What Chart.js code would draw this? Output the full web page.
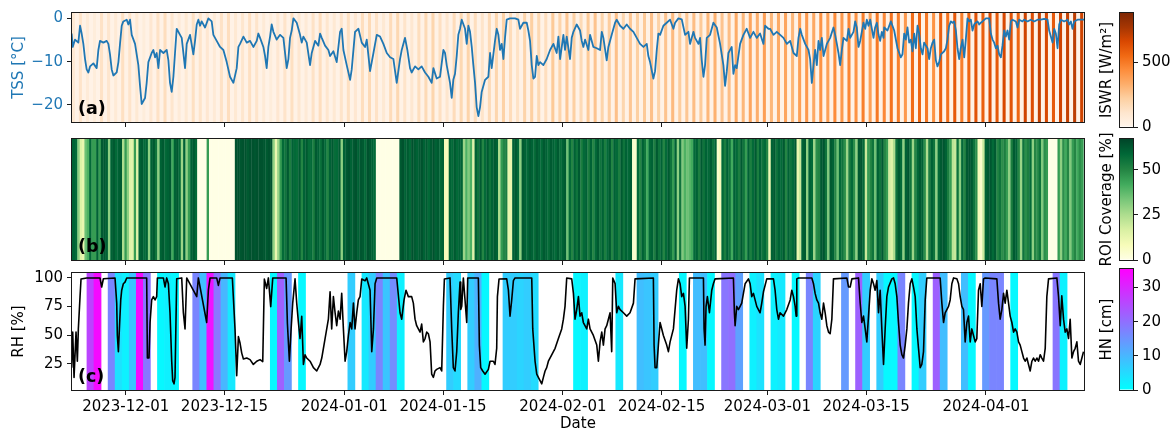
<!DOCTYPE html>
<html><head><meta charset="utf-8">
<script src="https://cdn.jsdelivr.net/npm/chart.js@4.4.1/dist/chart.umd.min.js"></script>
<style>
html,body{margin:0;padding:0;background:#fff;}
#wrap{position:relative;width:1175px;height:434px;overflow:hidden;background:#fff;}
canvas{position:absolute;}
</style></head><body>
<div id="wrap">
<canvas id="cA" width="1100" height="135" style="left:0;top:0"></canvas>
<canvas id="cB" width="1100" height="135" style="left:0;top:130px"></canvas>
<canvas id="cC" width="1100" height="174" style="left:0;top:260px"></canvas>
<canvas id="kA" width="85" height="140" style="left:1090px;top:0"></canvas>
<canvas id="kB" width="85" height="150" style="left:1090px;top:125px"></canvas>
<canvas id="kC" width="85" height="150" style="left:1090px;top:255px"></canvas>
</div>
<script>
// ---------------- DATA ----------------
const startDate = '2023-11-23';           // day 0 of all time values below (days since this date)
const tickDates = ['2023-12-01','2023-12-15','2024-01-01','2024-01-15','2024-02-01','2024-02-15','2024-03-01','2024-03-15','2024-04-01'];
const tssTicks = [0, -10, -20];
const rhTicks = [25, 50, 75, 100];
const iswrTicks = [0, 500];
const roiTicks = [0, 25, 50];
const hnTicks = [0, 10, 20, 30];

// snow surface temperature [°C] : [day, value]
const tssSeries = [
[0.33,-3.5],[0.48,-6.6],[0.81,-4.9],[1.28,-5.6],[1.52,-1.7],[1.75,-3.5],[1.99,-5.9],[2.23,-9.4],[2.46,-11.8],[2.70,-12.5],[2.94,-11.1],[3.41,-10.4],[3.88,-11.5],[4.12,-7.3],[4.35,-5.2],[4.83,-5.6],[5.30,-5.2],[5.54,-5.9],[5.77,-8.3],[6.01,-11.8],[6.25,-13.2],[6.72,-12.5],[6.96,-10.1],[7.19,-5.9],[7.43,-1.7],[7.66,-0.7],[8.14,-0.3],[8.37,-1.4],[8.61,-0.3],[8.85,-3.8],[9.32,-5.9],[9.79,-10.8],[10.03,-15.6],[10.26,-19.8],[10.50,-19.1],[10.74,-18.4],[10.97,-14.9],[11.21,-10.1],[11.68,-8.0],[11.92,-7.3],[12.16,-9.0],[12.39,-8.0],[12.63,-11.5],[12.87,-7.3],[13.34,-8.0],[13.81,-7.3],[14.05,-9.7],[14.28,-14.9],[14.52,-17.0],[14.76,-13.5],[14.99,-8.0],[15.23,-2.4],[15.70,-3.8],[15.94,-4.5],[16.41,-11.5],[16.65,-5.9],[17.12,-3.8],[17.59,-8.3],[17.83,-5.2],[18.07,-1.4],[18.30,-0.3],[18.54,-1.7],[18.77,-0.7],[19.25,-2.1],[19.72,0.0],[20.19,-0.7],[20.43,-3.8],[20.90,-5.2],[21.38,-6.6],[21.85,-7.3],[22.32,-10.1],[22.79,-13.5],[23.27,-14.9],[23.74,-11.5],[23.98,-6.6],[24.21,-5.9],[24.69,-4.2],[25.16,-5.6],[25.63,-5.2],[26.10,-6.6],[26.58,-5.2],[26.81,-3.5],[27.05,-4.5],[27.52,-6.6],[27.76,-8.7],[27.99,-11.5],[28.23,-6.6],[28.47,-4.2],[28.70,-1.4],[28.94,-3.1],[29.41,-4.9],[29.89,-3.8],[30.36,-4.5],[30.83,-11.5],[31.07,-9.4],[31.30,-4.5],[31.54,-2.8],[31.78,0.0],[32.25,-1.0],[32.72,-3.8],[32.96,-5.6],[33.20,-4.2],[33.67,-5.6],[34.14,-10.8],[34.38,-8.0],[34.85,-5.2],[35.32,-6.3],[35.56,-3.5],[35.80,-4.5],[36.27,-6.3],[36.74,-7.3],[36.98,-8.7],[37.45,-7.6],[37.92,-10.1],[38.40,-3.1],[38.63,-2.4],[38.87,-7.3],[39.34,-10.8],[39.82,-14.2],[40.05,-11.8],[40.52,-3.1],[41.00,-2.4],[41.47,-5.6],[41.94,-6.6],[42.18,-4.9],[42.65,-12.2],[43.13,-8.0],[43.60,-3.8],[44.07,-4.2],[44.54,-5.9],[45.02,-8.0],[45.49,-9.0],[45.96,-9.4],[46.43,-14.9],
[46.90,-9.4],[47.14,-7.3],[47.61,-4.5],[47.94,-7.3],[48.32,-11.5],[48.55,-12.5],[49.03,-11.1],[49.50,-11.8],[49.97,-11.1],[50.45,-12.5],[50.92,-13.5],[51.39,-14.9],[51.63,-11.5],[52.10,-13.9],[52.57,-13.5],[53.05,-7.3],[53.28,-8.0],[53.52,-10.8],[53.99,-14.9],[54.23,-18.4],[54.46,-14.2],[54.70,-12.8],[54.94,-8.7],[55.17,-3.8],[55.41,-2.4],[55.65,-0.3],[56.12,-2.4],[56.36,-5.9],[56.59,-1.7],[56.83,-3.1],[57.07,-6.6],[57.30,-10.8],[57.54,-14.9],[57.77,-20.5],[58.01,-22.6],[58.25,-20.5],[58.48,-17.0],[58.96,-14.2],[59.43,-13.5],[59.67,-8.0],[59.90,-11.5],[60.37,-5.2],[60.61,-2.4],[60.85,-3.8],[61.08,-7.3],[61.32,-5.9],[61.56,-9.4],[61.79,-4.5],[62.03,-0.3],[62.50,0.0],[63.21,0.0],[63.68,-0.3],[63.92,-2.4],[64.39,-1.0],[64.87,-1.0],[65.10,-2.8],[65.34,-5.2],[65.58,-10.8],[65.81,-13.9],[66.05,-13.5],[66.29,-8.7],[66.52,-10.8],[66.76,-10.1],[67.23,-10.8],[67.70,-9.4],[68.18,-7.3],[68.65,-5.9],[69.12,-8.0],[69.36,-4.2],[69.60,-9.4],[70.07,-3.8],[70.30,-7.3],[70.54,-4.2],[71.01,-9.4],[71.25,-4.5],[71.49,-3.1],[71.96,-1.4],[72.43,-2.8],[72.67,-5.2],[72.90,-6.6],[73.14,-4.9],[73.61,-7.3],[73.85,-3.8],[74.32,-6.6],[74.80,-6.9],[75.27,-7.3],[75.51,-3.1],[75.74,-4.5],[76.21,-9.7],[76.45,-6.6],[76.92,-3.8],[77.40,-1.0],[77.63,-0.3],[78.11,-1.7],[78.58,-2.4],[79.05,-1.4],[79.52,-2.4],[80.00,-3.1],[80.47,-4.5],[80.94,-5.9],[81.42,-6.6],[81.89,-5.9],[82.12,-8.7],[82.36,-10.1],[82.83,-13.9],[83.07,-12.2],[83.31,-7.3],[83.54,-3.5],[83.78,-3.8],[84.25,-1.7],[84.72,-1.0],[85.20,-0.3],[85.67,-2.4],[85.91,-1.0],[86.38,0.0],[86.85,-0.2],[87.33,-3.8],[87.80,-3.1],[88.03,-5.9],[88.51,-3.1],[88.74,-4.5],[89.22,-5.9],[89.45,-4.5],[89.69,-9.7],[89.93,-13.5],[90.16,-10.8],[90.40,-4.5],[90.87,-3.8],[91.34,-1.0],[91.82,-2.1],[92.29,-5.9],[92.76,-10.8],[93.00,-15.6],[93.24,-12.2],[93.47,-8.0],[93.94,-6.6],[94.18,-12.8],[94.42,-10.8],[94.65,-11.5],[95.13,-5.9],[95.60,-3.8],[96.07,-2.4],[96.55,-4.5],[97.02,-3.1],[97.49,-4.5],[97.96,-3.5],[98.44,-5.9],[98.67,-1.7],[99.15,-2.4],[99.38,-2.4],[99.86,-3.8],[100.33,-3.1],
[100.81,-3.8],[101.28,-4.5],[101.76,-5.9],[102.23,-5.2],[102.70,-8.0],[103.17,-8.7],[103.41,-4.5],[103.65,-2.4],[103.88,-3.8],[104.36,-5.9],[104.83,-7.3],[105.06,-9.4],[105.30,-14.9],[105.54,-10.8],[105.77,-7.3],[106.01,-10.8],[106.25,-5.2],[106.48,-7.3],[106.72,-4.5],[106.96,-8.7],[107.43,-5.9],[107.90,-4.5],[108.37,-2.1],[108.61,-3.8],[108.85,-5.9],[109.08,-8.0],[109.32,-10.8],[109.56,-7.3],[109.79,-4.5],[110.27,-5.2],[110.50,-2.4],[110.74,-4.5],[111.21,-3.1],[111.45,-0.7],[111.68,-2.1],[111.92,-6.6],[112.16,-5.2],[112.39,-3.1],[112.63,-1.0],[112.87,-2.4],[113.10,-0.3],[113.34,-1.7],[113.58,-0.3],[113.81,-2.4],[114.05,-4.5],[114.28,-2.1],[114.52,-1.0],[114.76,-3.8],[114.99,-5.2],[115.23,-3.1],[115.47,-4.5],
[115.56,-2.1],[116.03,-2.8],[116.51,-0.7],[116.98,-2.8],[117.45,-6.9],[117.92,-9.0],[118.16,-8.3],[118.40,-3.5],[118.63,-4.9],[118.87,-2.1],[119.11,-5.6],[119.34,-4.9],[119.58,-7.6],[119.82,-3.5],[120.05,-6.9],[120.29,-1.7],[120.52,-3.5],[120.76,-6.9],[121.00,-8.3],[121.23,-5.6],[121.71,-6.9],[121.94,-9.4],[122.18,-6.9],[122.42,-5.6],[122.65,-4.9],[122.89,-9.7],[123.12,-11.1],[123.36,-10.1],[123.60,-8.3],[124.07,-7.6],[124.31,-6.9],[124.54,-4.9],[124.78,-1.7],[125.02,-0.7],[125.25,-1.0],[125.49,-0.7],[125.73,-2.8],[125.96,-6.9],[126.20,-9.4],[126.43,-6.9],[126.67,-4.9],[126.91,-9.0],[127.14,-4.9],[127.38,0.0],[127.62,-0.7],[127.85,-0.3],[128.09,-2.8],[128.33,-1.4],[128.56,-1.0],[128.80,-0.7],[129.04,-1.4],[129.27,-1.0],[129.51,-0.7],[129.98,0.0],[130.45,0.0],[130.69,-3.5],[130.93,-4.9],[131.16,-5.6],[131.40,-6.9],[131.64,-6.3],[131.87,-8.3],[132.11,-9.0],[132.34,-6.3],[132.58,-2.8],[132.82,-4.2],[133.05,-2.8],[133.29,-4.9],[133.53,-0.7],[133.76,-0.3],[134.24,-0.7],[134.47,-2.1],[134.71,-0.3],[135.18,-0.7],[135.42,-0.3],[135.89,-0.7],[136.36,-0.3],[136.84,-0.7],[137.31,-0.3],[137.78,-0.3],[138.25,-0.1],[138.73,-0.3],[138.96,-2.8],[139.20,-4.2],[139.44,-5.6],[139.67,-2.4],[139.91,-3.5],[140.15,-6.9],[140.38,-1.4],[140.62,-0.3],[141.09,-0.7],[141.56,-0.3],[141.80,-1.4],[142.04,-0.7],[142.27,-2.4],[142.51,-0.7],[142.98,-0.3],[143.45,-0.3],[143.93,-0.3]
];

// relative humidity [%] : [day, value]
const rhSeries = [
[0.33,21.7],[0.48,52.7],[0.67,13.2],[0.81,33.0],[0.95,52.7],[1.14,27.3],[1.28,55.5],[1.52,83.7],[1.66,99],[2.46,100],[4.35,100],[4.59,92.1],[4.83,99.3],[6.48,100],[6.72,78.0],[6.81,49.8],[6.96,35.7],[7.10,55.5],[7.29,80.8],[7.43,89.3],[7.66,94.9],[7.90,96.3],[8.14,100],[10.97,100],[11.07,30.1],[11.30,30.1],[11.45,61.1],[11.68,80.8],[11.92,83.7],[12.16,80.8],[12.39,83.7],[12.49,100],[13.34,100],[13.57,92.1],[13.81,100],[14.05,95.0],[14.28,69.6],[14.52,27.3],[14.66,10.4],[14.85,7.6],[14.99,13.2],[15.23,99.3],[15.94,100],[16.17,70],[16.41,55.5],[16.65,100],[18.07,83.7],[18.30,100],[19.48,61.1],[19.72,89.3],[19.96,100],[20.90,100],[21.14,93.5],[21.38,100],[23.12,100],[23.50,55.5],[23.74,14.6],[23.98,48.8],[24.21,43.2],[24.45,34.4],[24.69,29.3],[25.16,30.1],[25.63,28.7],[26.10,24.5],[26.58,27.3],[27.05,28.7],[27.43,27.0],[27.66,99.0],[27.99,90.8],[28.23,100],[28.56,75.0],[28.85,100],[30.74,100],[30.93,60],[31.21,27.3],[31.45,55],[31.68,78.0],[32.01,99.2],[32.25,78.0],[32.49,61.1],[32.72,47.1],[32.96,66.5],[33.20,24.5],[33.43,32.9],[33.67,30.1],[34.14,27.3],[34.62,21.7],[35.09,18.8],[35.56,24.5],[35.80,30.1],[36.27,47.1],[36.74,64],[36.98,87.9],[37.21,55.5],[37.45,83.7],[37.69,69.6],[37.92,58.3],[38.16,71],[38.40,64],[38.63,86.5],[38.87,55.5],[39.11,27.3],[39.34,35.7],[39.58,49.8],[39.82,61.1],[40.05,55.5],[40.29,78.0],[40.52,55.5],[40.76,69.6],[40.99,80.8],[41.23,83.7],[41.47,99],[41.94,97.5],[42.18,100],[42.65,89.3],[42.89,35.7],[43.13,55.5],[43.36,94.9],[43.60,100],[46.43,100],
[46.90,69.6],[47.14,64.0],[47.47,80.8],[47.75,89.3],[48.08,83.7],[48.55,83.7],[48.79,78.0],[49.03,64.0],[49.26,58.3],[49.50,55.5],[49.74,52.7],[49.97,59.7],[50.21,44.2],[50.45,47.1],[50.68,52.7],[50.92,51.3],[51.16,44.2],[51.39,16.0],[51.63,13.2],[51.86,18.8],[52.10,20.2],[52.57,21.7],[52.81,18.8],[53.05,75.2],[53.19,99.0],[53.99,100],[54.23,55.5],[54.46,21.7],[54.70,18.8],[54.94,35.7],[55.17,69.6],[55.41,96.3],[55.51,72.4],[55.65,75.2],[55.88,100],[56.36,61.1],[56.50,100],[58.01,100],[58.15,41.4],[58.34,21.7],[58.63,18.8],[58.96,16.0],[59.43,20.2],[59.67,27.3],[60.14,27.3],[60.37,24.5],[60.61,38.6],[60.71,83.7],[60.94,99.0],[62.03,99.2],[62.27,89.3],[62.50,66.7],[62.74,80.8],[62.98,97.7],[63.21,100],[65.58,100],[65.72,55.5],[66.05,27.3],[66.29,16.0],[66.52,13.2],[66.76,10.4],[67.00,7.6],[67.23,13.2],[67.47,18.8],[67.70,21.7],[67.94,27.3],[68.41,32.9],[68.89,38.6],[69.36,47.1],[69.83,55.5],[70.07,64.0],[70.30,75.2],[70.54,100],[71.25,99.2],[71.49,86.5],[71.72,64.0],[71.96,72.4],[72.20,83.7],[72.43,66.7],[72.67,69.6],[72.90,61.1],[73.38,55.5],[73.61,64.0],[73.85,55.5],[74.32,49.8],[74.80,41.4],[75.03,27.3],[75.27,44.2],[75.51,52.7],[75.74,41.4],[75.98,55.5],[76.21,58.3],[76.69,69.6],[76.92,35.7],[77.07,100],[77.40,95.0],[77.63,69.6],[77.87,75.2],[78.11,72.4],[78.58,69.6],[79.05,66.7],[79.52,69.6],[80.00,78.0],[80.23,99.2],[82.83,100],[82.93,41.4],[83.07,21.7],[83.31,21.7],[83.54,41.4],[83.78,61.1],[84.25,49.8],[84.72,41.4],[84.96,35.7],[85.20,44.2],[85.67,55.5],[86.14,89.3],[86.38,99.2],[86.62,94.9],[86.85,83.7],[87.09,86.5],[87.33,75.2],[87.56,38.6],[87.80,64.0],[87.94,100],[89.93,100],[90.02,55.5],[90.16,41.4],[90.30,75.2],[90.49,83.7],[90.78,69.6],[91.11,89.3],[91.34,94.9],[91.58,99.2],[94.18,100],[94.32,69.6],[94.42,58.3],[94.65,75.2],[94.89,72.4],[95.13,75.2],[95.36,78.0],[95.60,86.5],[95.84,94.9],[96.31,99.2],[96.55,94.9],[96.78,83.7],[97.02,86.5],[97.49,75.2],[97.96,69.6],[98.20,78.0],[98.44,87.9],[98.91,99.2],[99.86,99.2],[100.09,89.3],[100.33,72.4],[100.57,64.0],[100.80,69.6],[101.28,66.7],[101.75,72.4],
[102.23,80.8],[102.46,89.3],[102.70,83.7],[102.94,75.2],[103.08,66.7],[103.17,99.2],[103.41,100],[105.30,100],[105.54,94.9],[105.77,86.5],[106.01,80.8],[106.25,78.0],[106.48,69.6],[106.72,64.0],[106.96,78.0],[107.19,69.6],[107.43,58.3],[107.67,52.7],[107.90,51.3],[108.14,64.0],[108.37,99.2],[110.27,100],[110.50,92.1],[110.74,92.1],[110.98,99.2],[111.92,100],[112.16,78.0],[112.39,61.1],[112.63,66.7],[112.87,55.5],[113.10,44.2],[113.34,66.7],[113.58,89.3],[113.81,99.2],[114.05,94.9],[114.28,89.3],[114.52,97.7],[114.76,69.6],[114.99,89.3],[115.23,55.5],[115.47,24.5],[115.70,55.5],[115.94,83.7],[116.18,92.1],[116.65,99.2],[116.89,100],[117.12,94.9],[117.36,83.7],[117.59,61.1],[117.83,41.4],[118.07,33.0],[118.30,30.1],[118.54,41.4],[118.78,55.5],[119.01,78.0],[119.25,94.9],[119.49,99.2],[119.72,92.1],[119.96,83.7],[120.20,55.5],[120.43,38.6],[120.67,21.7],[120.90,24.5],[121.14,35.7],[121.38,80.8],[121.61,100],[123.50,100],[123.74,78.0],[123.98,61.1],[124.21,69.6],[124.45,72.4],[124.69,75.2],[124.92,80.8],[125.16,94.9],[125.40,100],[125.87,99.2],[126.11,94.9],[126.34,83.7],[126.58,75.2],[126.81,72.4],[127.05,44.2],[127.29,61.1],[127.52,66.7],[127.76,44.2],[127.99,55.5],[128.23,49.8],[128.47,44.2],[128.70,47.1],[128.94,89.3],[129.18,94.9],[129.41,75.2],[129.65,99.2],[129.89,100],[131.54,99.2],[131.78,78.0],[132.01,64.0],[132.25,72.4],[132.49,86.5],[132.72,78.0],[132.96,89.3],[133.20,78.0],[133.43,66.7],[133.67,61.1],[133.91,52.7],[134.14,55.5],[134.38,52.7],[134.62,44.2],[134.85,41.4],[135.09,35.7],[135.33,30.1],[135.56,27.3],[135.80,30.1],[136.03,24.5],[136.27,18.8],[136.51,27.3],[136.74,30.1],[136.98,27.3],[137.22,30.1],[137.45,27.3],[137.69,33.0],[137.92,30.1],[138.16,27.3],[138.40,38.6],[138.63,83.7],[138.87,99.2],[140.05,100],[140.29,83.7],[140.53,58.3],[140.75,84.5],[141.00,64.0],[141.23,52.7],[141.47,55.5],[141.71,47.1],[141.94,64.0],[142.18,30.1],[142.42,35.7],[142.65,38.6],[142.89,44.2],[143.12,27.3],[143.36,24.5],[143.60,30.1],[143.83,35.7]
];

// daily midday incoming shortwave radiation [W/m²], one per day from day 0
const iswrDaily = [
90,120,70,60,130,110,80,140,120,90,60,100,130,150,110,70,90,140,120,100,80,130,150,90,110,140,120,80,60,100,
120,140,100,80,130,150,110,90,120,140,100,150,170,130,90,160,180,120,100,150,170,190,140,110,160,180,200,150,120,170,
190,210,160,130,200,220,180,150,240,200,250,220,170,240,260,200,230,270,190,250,220,240,270,210,260,290,230,250,280,240,
300,320,260,280,340,300,360,330,380,300,340,360,300,380,400,350,420,380,440,400,460,420,480,380,500,450,520,480,400,540,
560,500,420,580,520,600,480,560,620,580,640,600,660,620,560,680,640,700,660,600,680,700,720,680
];
const iswrHour = 13.7;   // time of day of the midday stripes

// ROI coverage [%], every 8 h starting at day 0.33
const roiStartDay = 0.33, roiStepHours = 8;
const roiCoverage = [
60,60,58,30,15,12,35,40,58,45, 45,60,45,62,62,60,30,60,62,58, 60,62,25,45,30,15,15,45,15,60,
62,58,60,30,60,62,55,30,60,62, 58,60,62,42,60,62,58,28,60,30, 45,60,62,58,0,0,0,0,45,0,
0,0,0,0,0,0,0,0,0,0, 64,64,63,64,64,62,64,64,63,64, 64,64,63,62,64,64,30,12,28,45,
58,55,62,52,60,58,57,62,50,60, 62,57,58,52,62,60,56,62,58,50, 60,62,57,58,62,30,60,62,64,60,
62,64,60,63,62,58,64,62,60,58, 0,0,0,0,0,0,0,0,0,0, 62,64,60,62,58,64,62,60,62,64,
60,62,58,62,64,60,62,58,60,8, 8,60,58,62,58,60,60,28,40,32, 40,15,60,55,62,50,58,62,55,60,
62,60,25,45,50,52,12,12,60,62, 58,30,62,60,58,62,60,57,62,60, 58,62,60,57,62,60,58,62,57,60,
62,35,58,50,60,55,62,52,58,60, 52,60,50,58,62,55,60,52,58,62, 50,60,58,52,62,55,60,58,62,5,
5,58,50,60,55,42,58,60,52,62, 55,60,50,58,62,55,45,60,30,55, 32,40,35,38,42,58,60,52,62,55,
60,58,62,55,60,5,8,58,52,60, 55,42,60,58,52,62,55,45,60,52, 58,62,52,60,55,58,50,10,60,62,
55,60,58,62,50,60,55,58,62,12, 20,60,62,30,60,58,28,48,50,62, 63,55,32,62,60,50,35,58,55,48,
28,52,58,48,30,62,63,58,20,45, 50,55,35,60,55,62,50,45,18,15, 25,55,62,58,30,60,63,55,28,50,
58,62,60,48,25,52,60,55,30,58, 62,63,60,52,45,22,20,55,30,58, 50,62,63,62,55,48,8,5,20,60,
62,63,58,62,50,55,48,52,45,30, 52,62,60,50,28,55,48,52,58,30, 50,48,55,32,48,45,0,0,0,0,
45,30,48,42,50,32,45,50,42,48,45
];

// daily new snow height HN [cm], one per day from day 0 (null = no new snow)
const hnDaily = [
null,null,null,26,34,null,17,4,2,8, 34,19,null,1,2,1,null,null,17,9,
33,19,10,3,null,null,null,null,null,1, 22,14,null,1,null,null,null,null,null,null,
7,null,3,7,17,8,16,2,null,null, null,null,null,null,7,5,null,7,11,1,
null,null,7,7,6,7,5,null,null,null, null,null,1,2,null,null,null,null,3,null,
null,9,8,7,null,null,null,1,null,9, 9,1,null,19,20,13,null,2,4,null,
2,3,null,1,null,17,6,null,null,null, 14,null,22,7,null,7,1,1,17,null,
1,7,null,22,9,null,null,9,1,null, 14,17,17,null,1,null,null,null,null,null,
19,2,null,null
];

// ---------------- HELPERS ----------------
const DAY0 = Date.parse(startDate + 'T00:00:00Z');
const dayOf = s => (Date.parse(s + 'T00:00:00Z') - DAY0) / 86400000;
const tickDays = tickDates.map(dayOf);
const xMin = 0.38, xMax = 143.9;
const tssMin = -23.96, tssMax = 1.25;
const rhMin = 2.2, rhMax = 104.3;
const iswrMax = 877, roiMax = 67, hnMax = 35.4;

const OrangesStops = ['#fff5eb','#fee6ce','#fdd0a2','#fdae6b','#fd8d3c','#f16913','#d94801','#a63603','#7f2704'];
const YlGnStops = ['#ffffe5','#f7fcb9','#d9f0a3','#addd8e','#78c679','#41ab5d','#238443','#006837','#004529'];
const coolStops = ['#00ffff','#ff00ff'];
const hexRgb = h => [1,3,5].map(i => parseInt(h.substr(i,2),16));
function cmap(stops, t) {
  t = Math.max(0, Math.min(1, t));
  const n = stops.length - 1, f = t * n, i = Math.min(n - 1, Math.floor(f)), u = f - i;
  const a = hexRgb(stops[i]), b = hexRgb(stops[i+1]);
  return 'rgb(' + a.map((v, k) => Math.round(v + (b[k] - v) * u)).join(',') + ')';
}
const minus = v => v < 0 ? '\u2212' + Math.abs(v) : String(v);
const FONT = '"DejaVu Sans", "Liberation Sans", sans-serif';
Chart.defaults.font.family = FONT;
Chart.defaults.font.size = 15;
Chart.defaults.color = '#000';

const framePlugin = {
  id: 'frame',
  beforeDatasetsDraw(chart, args, o) {
    if (!o.bg) return;
    const {ctx, chartArea: a} = chart;
    ctx.save(); ctx.fillStyle = o.bg; ctx.fillRect(a.left, a.top, a.right - a.left, a.bottom - a.top); ctx.restore();
  },
  afterDraw(chart, args, o) {
    const {ctx, chartArea: a} = chart;
    ctx.save();
    if (o.label) {
      ctx.font = 'bold 17.5px ' + FONT; ctx.fillStyle = '#000'; ctx.textBaseline = 'alphabetic'; ctx.textAlign = 'left';
      ctx.fillText(o.label, a.left + 6, a.bottom - 8);
    }
    ctx.strokeStyle = '#1a1a1a'; ctx.lineWidth = 1;
    ctx.strokeRect(Math.round(a.left) - 0.5, Math.round(a.top) - 0.5, Math.round(a.right - a.left) + 1, Math.round(a.bottom - a.top) + 1);
    ctx.restore();
  }
};

function base(padding, frame) {
  return {
    responsive: false, maintainAspectRatio: false, animation: false, devicePixelRatio: 1, events: [],
    layout: {padding},
    plugins: {legend: {display: false}, tooltip: {enabled: false}, frame}
  };
}
function xScale(showLabels) {
  return {
    type: 'linear', min: xMin, max: xMax, offset: false,
    afterBuildTicks: s => { s.ticks = tickDays.map(v => ({value: v})); },
    ticks: {display: showLabels, autoSkip: false, maxRotation: 0, padding: 3, callback: (v, i) => tickDates[i]},
    grid: {display: true, drawOnChartArea: false, drawTicks: true, tickLength: 5, tickColor: '#1a1a1a', offset: false},
    border: {display: false},
    title: {display: showLabels, text: 'Date', padding: {top: 0, bottom: 1}},
    afterFit: s => { s.height = showLabels ? 44 : 5; }
  };
}
function yScale(min, max, ticks, title, color) {
  return {
    type: 'linear', min, max,
    afterBuildTicks: s => { s.ticks = ticks.map(v => ({value: v})); },
    ticks: {display: !!ticks.length, color, padding: 4, callback: v => minus(v)},
    grid: {display: !!ticks.length, drawOnChartArea: false, tickLength: 5, tickColor: '#1a1a1a'},
    border: {display: false},
    title: {display: !!title, text: title, color, padding: {top: 10, bottom: 0}},
    afterFit: s => { s.width = 72; }
  };
}

// ---------------- PANEL (a) ----------------
new Chart(document.getElementById('cA'), {
  type: 'line',
  data: {datasets: [
    {type: 'line', data: tssSeries.map(p => ({x: p[0], y: p[1]})), borderColor: '#1f77b4', borderWidth: 1.8,
     pointRadius: 0, tension: 0, fill: false, borderJoinStyle: 'round', order: 0},
    {type: 'bar', data: iswrDaily.map((v, d) => ({x: d + iswrHour / 24, y: [tssMin, tssMax]})),
     backgroundColor: iswrDaily.map(v => cmap(OrangesStops, v / iswrMax)), barThickness: 2.4, borderWidth: 0, order: 1}
  ]},
  options: Object.assign(base({top: 9, right: 16, left: 0, bottom: 0}, {bg: '#fff2e6', label: '(a)'}), {
    scales: {x: xScale(false), y: yScale(tssMin, tssMax, tssTicks, 'TSS [°C]', '#1f77b4')}
  }),
  plugins: [framePlugin]
});

// ---------------- PANEL (b) ----------------
new Chart(document.getElementById('cB'), {
  type: 'line',
  data: {datasets: [
    {type: 'bar', data: roiCoverage.map((v, k) => ({x: roiStartDay + k * roiStepHours / 24, y: [0, 1]})),
     backgroundColor: roiCoverage.map(v => cmap(YlGnStops, v / roiMax)), barPercentage: 1.15, categoryPercentage: 1, borderWidth: 0}
  ]},
  options: Object.assign(base({top: 9, right: 16, left: 0, bottom: 0}, {label: '(b)'}), {
    scales: {x: xScale(false), y: yScale(0, 1, [], '', '#000')}
  }),
  plugins: [framePlugin]
});

// ---------------- PANEL (c) ----------------
new Chart(document.getElementById('cC'), {
  type: 'line',
  data: {datasets: [
    {type: 'line', data: rhSeries.map(p => ({x: p[0], y: p[1]})), borderColor: '#000', borderWidth: 1.6,
     pointRadius: 0, tension: 0, fill: false, borderJoinStyle: 'round', order: 0},
    {type: 'bar', data: hnDaily.map((v, d) => ({x: d, y: [rhMin, rhMax]})),
     backgroundColor: hnDaily.map(v => v === null ? 'rgba(255,255,255,0)' : cmap(coolStops, v / hnMax)),
     barPercentage: 1, categoryPercentage: 1, borderWidth: 0, order: 1}
  ]},
  options: Object.assign(base({top: 9, right: 16, left: 0, bottom: 0}, {label: '(c)'}), {
    scales: {x: xScale(true), y: yScale(rhMin, rhMax, rhTicks, 'RH [%]', '#000')}
  }),
  plugins: [framePlugin]
});

// ---------------- COLORBARS ----------------
function colorbar(id, stops, vmax, ticks, title, padTop, padBottom) {
  new Chart(document.getElementById(id), {
    type: 'bar',
    data: {labels: [''], datasets: [{
      data: [[0, vmax]], yAxisID: 'y', barPercentage: 1, categoryPercentage: 1, borderWidth: 0, inflateAmount: 0,
      backgroundColor: c => {
        const a = c.chart.chartArea; if (!a) return stops[0];
        const g = c.chart.ctx.createLinearGradient(0, a.bottom, 0, a.top);
        stops.forEach((s, i) => g.addColorStop(i / (stops.length - 1), s));
        return g;
      }
    }]},
    options: Object.assign(base({top: padTop, bottom: padBottom, left: 0, right: 0}, {}), {
      scales: {
        x: {display: false, offset: true},
        y: {position: 'right', min: 0, max: vmax,
            afterBuildTicks: s => { s.ticks = ticks.map(v => ({value: v})); },
            ticks: {padding: 4},
            grid: {drawOnChartArea: false, tickLength: 5, tickColor: '#1a1a1a'},
            border: {display: false},
            afterFit: s => { s.width = 42; }},
        yl: {position: 'left', display: true, ticks: {display: false}, grid: {display: false}, border: {display: false},
             title: {display: true, text: title, padding: {top: 8, bottom: 0}},
             afterFit: s => { s.width = 30; }}
      }
    }),
    plugins: [framePlugin]
  });
}
colorbar('kA', OrangesStops, iswrMax, iswrTicks, 'ISWR [W/m²]', 9, 10);
colorbar('kB', YlGnStops, roiMax, roiTicks, 'ROI Coverage [%]', 14, 15);
colorbar('kC', coolStops, hnMax, hnTicks, 'HN [cm]', 14, 15);
</script>
</body></html>
